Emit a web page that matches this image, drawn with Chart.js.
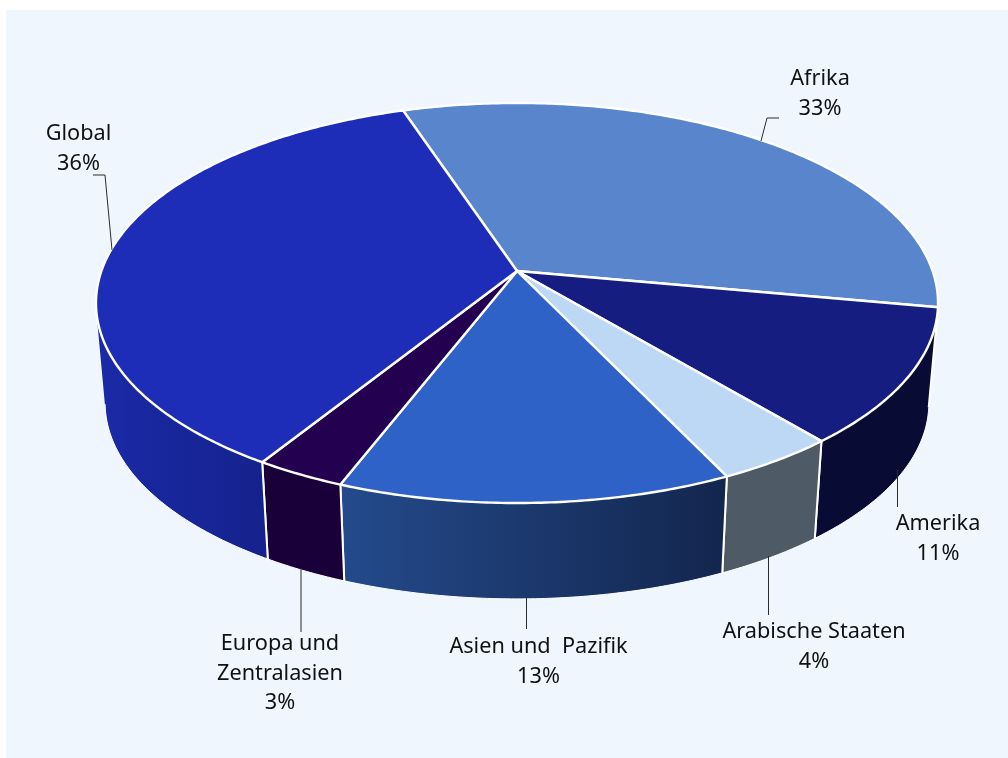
<!DOCTYPE html>
<html lang="de">
<head>
<meta charset="utf-8">
<title>Regionale Verteilung</title>
<script src="https://cdn.jsdelivr.net/npm/chart.js@4/dist/chart.umd.min.js"></script>
<style>
  html, body { margin: 0; padding: 0; background: #ffffff; }
  canvas { display: block; }
</style>
</head>
<body>
<canvas id="chart" width="1008" height="758"></canvas>
<script>
// Shares per region, clockwise from the upper edge of the disc
const categories = ['Afrika', 'Amerika', 'Arabische Staaten', 'Asien und  Pazifik', 'Europa und\nZentralasien', 'Global'];
const shares = [33, 11, 4, 13, 3, 36];

// Surface colours of the slices and shading of their side walls
const topColors = ['#5985cc', '#151e80', '#bcd8f5', '#2f62c6', '#240050', '#1d2db8'];
const wallFrom = ['#0b1040', '#080c35', '#4e5a66', '#244a8b', '#1a0038', '#1a29a6'];
const wallTo = ['#0b1040', '#080c35', '#4e5a66', '#13264f', '#1a0038', '#15228c'];

// Label anchors and leader lines, one entry per category
const labelCenters = [[820, 85], [938, 530], [814, 638], [538.5, 653], [280, 650], [78.5, 140]];
const leaderLines = [
  [[779, 118], [767, 118], [761, 141]],
  [[897.5, 470], [897.5, 507]],
  [[768.5, 556], [768.5, 615]],
  [[526.5, 598], [526.5, 629]],
  [[301, 568], [301, 632]],
  [[93, 175], [105, 175], [112, 250]]
];

// Perspective of the disc: the hub sits above the middle of the ellipse
const view = {
  tilt: -0.16,
  top: { x: 517, y: 271, rx: 415.6, ry: 194.9 },
  base: { x: 517, y: 372, rx: 406.5, ry: 190.6 }
};

function project(plane, angle) {
  const u = Math.cos(angle), v = Math.sin(angle);
  const w = 1 + view.tilt * v;
  return [plane.x + plane.rx * u / w, plane.y + plane.ry * v / w];
}

function arcSamples(plane, start, end) {
  const steps = Math.max(2, Math.ceil((end - start) / 0.01));
  const pts = [];
  for (let i = 0; i <= steps; i++) pts.push(project(plane, start + (end - start) * i / steps));
  return pts;
}

function tracePolyline(ctx, pts, move) {
  pts.forEach((p, i) => (i === 0 && move) ? ctx.moveTo(p[0], p[1]) : ctx.lineTo(p[0], p[1]));
}

// Side wall of one slice: consistently wound quads so the outline follows the
// silhouette between the upper and the lower rim.
function drawWall(ctx, arc, i) {
  const upper = arcSamples(view.top, arc.startAngle, arc.endAngle);
  const lower = arcSamples(view.base, arc.startAngle, arc.endAngle);
  const angleAt = k => arc.startAngle + (arc.endAngle - arc.startAngle) * k / (lower.length - 1);

  // Only the part of the lower rim facing the viewer is ever visible
  const visibleRim = lower.filter((p, k) => Math.sin(angleAt(k)) > -view.tilt);
  const xs = (visibleRim.length ? visibleRim : lower).map(p => p[0]);
  const gradient = ctx.createLinearGradient(Math.min(...xs), 0, Math.max(...xs), 0);
  gradient.addColorStop(0, wallFrom[i]);
  gradient.addColorStop(1, wallTo[i]);

  ctx.beginPath();
  for (let k = 0; k < upper.length - 1; k++) {
    let quad = [upper[k], upper[k + 1], lower[k + 1], lower[k]];
    let area = 0;
    quad.forEach((p, n) => { const q = quad[(n + 1) % 4]; area += p[0] * q[1] - q[0] * p[1]; });
    if (area < 0) quad = quad.reverse();
    tracePolyline(ctx, quad, true);
    ctx.closePath();
  }
  ctx.fillStyle = gradient;
  ctx.fill();

  ctx.strokeStyle = '#ffffff';
  ctx.lineWidth = 1;
  ctx.beginPath();
  tracePolyline(ctx, visibleRim, true);
  ctx.stroke();

  ctx.lineWidth = 2;
  ctx.beginPath();
  tracePolyline(ctx, [upper[0], lower[0]], true);
  tracePolyline(ctx, [upper[upper.length - 1], lower[lower.length - 1]], true);
  ctx.stroke();
}

function drawSurface(ctx, arc, color) {
  ctx.beginPath();
  ctx.moveTo(view.top.x, view.top.y);
  tracePolyline(ctx, arcSamples(view.top, arc.startAngle, arc.endAngle), false);
  ctx.closePath();
  ctx.fillStyle = color;
  ctx.fill();
  ctx.strokeStyle = '#ffffff';
  ctx.lineWidth = 2.4;
  ctx.lineJoin = 'round';
  ctx.stroke();
}

// Renders the pie elements computed by Chart.js as a tilted cylinder
const cylinderPie = {
  id: 'cylinderPie',
  beforeDatasetsDraw(chart) {
    const ctx = chart.ctx;
    const arcs = chart.getDatasetMeta(0).data;
    ctx.save();
    arcs.forEach((arc, i) => drawWall(ctx, arc, i));
    arcs.forEach((arc, i) => drawSurface(ctx, arc, chart.data.datasets[0].backgroundColor[i]));
    ctx.restore();
    return false;
  },
  afterDraw(chart) {
    const ctx = chart.ctx;
    ctx.save();
    ctx.strokeStyle = '#2b2b2b';
    ctx.lineWidth = 1;
    leaderLines.forEach(line => {
      ctx.beginPath();
      tracePolyline(ctx, line, true);
      ctx.stroke();
    });
    ctx.fillStyle = '#111111';
    ctx.font = '21.7px "Noto Sans"';
    ctx.textAlign = 'center';
    ctx.textBaseline = 'alphabetic';
    chart.data.labels.forEach((label, i) => {
      const lines = label.split('\n').concat(chart.data.datasets[0].data[i] + '%');
      lines.forEach((text, n) => ctx.fillText(text, labelCenters[i][0], labelCenters[i][1] + n * 29.7));
    });
    ctx.restore();
  }
};

// Tinted panel behind the chart
const panel = {
  id: 'panel',
  beforeDraw(chart) {
    chart.ctx.save();
    chart.ctx.fillStyle = '#eff6fd';
    chart.ctx.fillRect(6, 10, 1002, 748);
    chart.ctx.restore();
  }
};

new Chart(document.getElementById('chart'), {
  type: 'pie',
  data: {
    labels: categories,
    datasets: [{ data: shares, backgroundColor: topColors, borderColor: '#ffffff', borderWidth: 2 }]
  },
  options: {
    responsive: false,
    animation: false,
    rotation: -18.4,
    plugins: { legend: { display: false }, tooltip: { enabled: false } }
  },
  plugins: [panel, cylinderPie]
});
</script>
</body>
</html>
